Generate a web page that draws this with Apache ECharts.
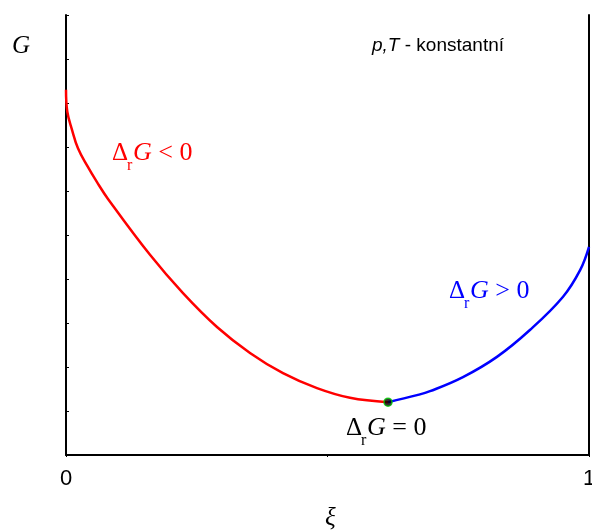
<!DOCTYPE html>
<html>
<head>
<meta charset="utf-8">
<script src="https://cdn.jsdelivr.net/npm/echarts@6/dist/echarts.min.js"></script>
<style>
  html, body { margin: 0; padding: 0; background: #fff; }
  #box { width: 592px; height: 532px; }
</style>
</head>
<body>
<div id="box"></div>
<script>
// reaction coordinate xi (0..1) vs G (arbitrary units)
let redXi = [0, 0.0025, 0.0115, 0.0229, 0.0402, 0.0593, 0.0803, 0.1606, 0.2237, 0.2887, 0.3518, 0.4149, 0.4799, 0.5430, 0.6157];
let redG = [8.30, 7.80, 7.39, 6.97, 6.58, 6.20, 5.82, 4.55, 3.68, 2.91, 2.32, 1.86, 1.52, 1.30, 1.20];

let blueXi = [0.6157, 0.671, 0.696, 0.759, 0.824, 0.887, 0.950, 0.983, 1.0];
let blueG = [1.20, 1.36, 1.45, 1.77, 2.23, 2.84, 3.59, 4.20, 4.73];

// rovnovazny bod
let eqXi = [0.6157];
let eqG = [1.20];

let xTickLabels = ['0', '', '1'];

function pairs(xs, ys) {
    return xs.map(function (x, i) { return [x, ys[i]]; });
}

let chart = echarts.init(document.getElementById('box'));

// Δ_r G popisek: tri kusy textu (Δ, dolni index r, zbytek)
function deltaLabel(x, y, rest, color) {
    return [
        {
            type: 'text', x: x, y: y,
            style: { text: 'Δ', font: '25px "Liberation Serif"', fill: color, verticalAlign: 'middle' }
        },
        {
            type: 'text', x: x + 15, y: y + 13,
            style: { text: 'r', font: '16px "Liberation Serif"', fill: color, verticalAlign: 'middle' }
        },
        {
            type: 'text', x: x + 21, y: y,
            style: {
                text: '{g|G}{t| ' + rest + '}',
                verticalAlign: 'middle',
                rich: {
                    g: { fontFamily: 'Liberation Serif', fontStyle: 'italic', fontSize: 26, fill: color },
                    t: { fontFamily: 'Liberation Serif', fontSize: 26, fill: color }
                }
            }
        }
    ];
}

let option = {
    backgroundColor: '#fff',
    animation: false,
    grid: { left: 66, right: 3, top: 15, bottom: 77, outerBoundsMode: 'none' },
    xAxis: {
        type: 'value',
        min: 0,
        max: 1,
        interval: 0.5,
        axisLine: { lineStyle: { color: '#000', width: 2 } },
        axisTick: { show: true, length: 2, lineStyle: { color: '#000' } },
        axisLabel: {
            margin: 13,
            fontFamily: 'Liberation Sans',
            fontSize: 22,
            color: '#000',
            formatter: function (v) { return xTickLabels[Math.round(v * 2)]; }
        },
        splitLine: { show: false }
    },
    yAxis: [
        {
            type: 'value',
            min: 0,
            max: 10,
            interval: 1,
            axisLine: { show: true, lineStyle: { color: '#000', width: 2 } },
            axisTick: { show: true, inside: true, length: 3, lineStyle: { color: '#000' } },
            axisLabel: { show: false },
            splitLine: { show: false }
        },
        {
            type: 'value',
            position: 'right',
            min: 0,
            max: 10,
            interval: 1,
            axisLine: { show: true, lineStyle: { color: '#000', width: 2 } },
            axisTick: { show: false },
            axisLabel: { show: false },
            splitLine: { show: false }
        }
    ],
    series: [
        {
            type: 'line',
            data: pairs(redXi, redG),
            smooth: 0.4,
            showSymbol: false,
            lineStyle: { color: '#ff0000', width: 2.5 }
        },
        {
            type: 'line',
            data: pairs(blueXi, blueG),
            smooth: 0.4,
            showSymbol: false,
            lineStyle: { color: '#0000ff', width: 2.5 }
        },
        {
            type: 'scatter',
            data: pairs(eqXi, eqG),
            symbolSize: 8,
            itemStyle: { color: '#000', borderColor: '#00cc00', borderWidth: 1.5 },
            z: 5
        }
    ],
    graphic: [
        {
            type: 'text', left: 12, top: 34,
            style: { text: 'G', font: 'italic 25px "Liberation Serif"', fill: '#000' }
        },
        {
            type: 'text', left: 372, top: 36,
            style: {
                text: '{i|p,T}{n| - konstantní}',
                rich: {
                    i: { fontFamily: 'Liberation Sans', fontStyle: 'italic', fontSize: 19, fill: '#000' },
                    n: { fontFamily: 'Liberation Sans', fontSize: 19, fill: '#000' }
                }
            }
        },
        {
            type: 'text', left: 325, top: 506,
            style: { text: 'ξ', font: 'italic 25px "Liberation Serif"', fill: '#000' }
        }
    ].concat(
        deltaLabel(112, 153, '< 0', '#ff0000'),
        deltaLabel(449, 291, '> 0', '#0000ff'),
        deltaLabel(346, 428, '= 0', '#000')
    )
};

chart.setOption(option);
</script>
</body>
</html>
